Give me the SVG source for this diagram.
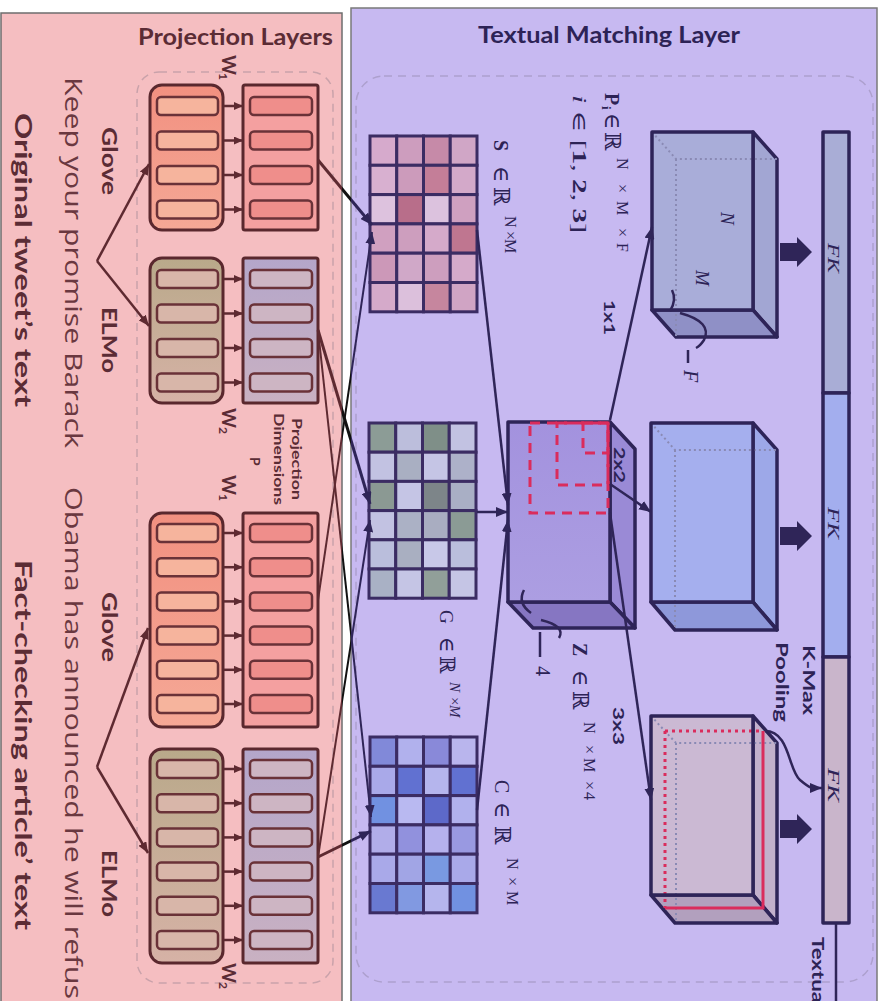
<svg xmlns="http://www.w3.org/2000/svg" width="882" height="1001" viewBox="0 0 882 1001">
<defs>
<style>
.lt{font-family:Lato,"Open Sans","Liberation Sans",sans-serif;fill:#5B2C35}
.st{font-family:"Open Sans","Liberation Sans",sans-serif;fill:#6A3840}
.rt{font-family:Lato,"Open Sans","Liberation Sans",sans-serif;fill:#2D2356}
.mt{font-family:"Liberation Serif","DejaVu Serif",serif;fill:#2D2356}
.b{font-weight:bold}
.it{font-style:italic}
.blk{stroke:#5A282E;stroke-width:3}
.inr{stroke:#6A3238;stroke-width:2.5}
.cell{stroke:#3B2C63;stroke-width:3}
.ml{stroke:#5E2A31;stroke-width:2.5;fill:none}
.nl{stroke:#2F2558;stroke-width:2.5;fill:none}
.xl{stroke:url(#xg);fill:none}
.edge{stroke:#2E2458;stroke-width:3.5;stroke-linejoin:round}
.dot{stroke:#8A8AB4;stroke-width:2;stroke-dasharray:2 3;fill:none}
.red{stroke:#DA2C5C;stroke-width:3;fill:none}
.rdash{stroke:#DA2C5C;stroke-width:3;fill:none;stroke-dasharray:10 7}
.big{font-size:22px}
</style>
<linearGradient id="xg" gradientUnits="userSpaceOnUse" x1="0" y1="0" x2="882" y2="0">
<stop offset="0" stop-color="#5E2A31"/><stop offset="0.3878" stop-color="#5E2A31"/>
<stop offset="0.3878" stop-color="#111111"/><stop offset="0.398" stop-color="#111111"/>
<stop offset="0.398" stop-color="#2F2558"/><stop offset="1" stop-color="#2F2558"/>
</linearGradient>
<linearGradient id="gG" x1="0" y1="0" x2="0" y2="1"><stop offset="0" stop-color="#F29080"/><stop offset="1" stop-color="#F5A896"/></linearGradient>
<linearGradient id="gE" x1="0" y1="0" x2="0" y2="1"><stop offset="0" stop-color="#B9A98A"/><stop offset="1" stop-color="#D6B2A6"/></linearGradient>
<linearGradient id="gPE" x1="0" y1="0" x2="0" y2="1"><stop offset="0" stop-color="#B4A6CA"/><stop offset="1" stop-color="#C9B1C2"/></linearGradient>
<linearGradient id="gZ" x1="0" y1="0" x2="0" y2="1"><stop offset="0" stop-color="#A392DE"/><stop offset="1" stop-color="#AC9EE2"/></linearGradient>
<marker id="am" markerUnits="userSpaceOnUse" markerWidth="11" markerHeight="9" refX="11" refY="4.5" orient="auto"><path d="M0,0 L11,4.5 L0,9 z" fill="#5E2A31"/></marker>
<marker id="as" markerUnits="userSpaceOnUse" markerWidth="9" markerHeight="8" refX="9" refY="4" orient="auto"><path d="M0,0 L9,4 L0,8 z" fill="#5E2A31"/></marker>
<marker id="an" markerUnits="userSpaceOnUse" markerWidth="12" markerHeight="10" refX="12" refY="5" orient="auto"><path d="M0,0 L12,5 L0,10 z" fill="#2F2558"/></marker>
</defs>

<rect width="882" height="1001" fill="#FFFFFF"/>
<g id="panel-left">
<rect x="1" y="13" width="341" height="992" fill="#F5BEC1" stroke="#6E6E6E" stroke-width="1.5"/>
<rect x="137" y="72" width="196" height="911" rx="22" fill="none" stroke="#C9A2AA" stroke-width="1.5" stroke-dasharray="8 6"/>
<text class="lt b" x="138" y="45" font-size="23" textLength="195" lengthAdjust="spacingAndGlyphs">Projection Layers</text>
</g>
<g id="panel-right">
<rect x="351" y="8" width="526" height="997" fill="#C7B9F1" stroke="#7A7A7A" stroke-width="1.5"/>
<rect x="356" y="76" width="517" height="906" rx="28" fill="none" stroke="#ADA0CE" stroke-width="1.5" stroke-dasharray="8 6"/>
<text class="rt b" x="478" y="43" font-size="23" textLength="262" lengthAdjust="spacingAndGlyphs">Textual Matching Layer</text>
</g>

<g id="left-texts">
<text class="lt b" font-size="23" transform="translate(15,0) rotate(90)" x="113" textLength="294" lengthAdjust="spacingAndGlyphs">Original tweet’s text</text>
<text class="lt b" font-size="23" transform="translate(15,0) rotate(90)" x="560" textLength="370" lengthAdjust="spacingAndGlyphs">Fact-checking article’ text</text>
<text class="st" font-size="24" transform="translate(65,0) rotate(90)" x="77" textLength="371" lengthAdjust="spacingAndGlyphs">Keep your promise Barack</text>
<text class="st" font-size="24" transform="translate(65,0) rotate(90)" x="487" textLength="512" lengthAdjust="spacingAndGlyphs">Obama has announced he will refus</text>
<text class="lt b" font-size="20" transform="translate(102,0) rotate(90)" x="127" textLength="68" lengthAdjust="spacingAndGlyphs">Glove</text>
<text class="lt b" font-size="20" transform="translate(102,0) rotate(90)" x="307" textLength="66" lengthAdjust="spacingAndGlyphs">ELMo</text>
<text class="lt b" font-size="20" transform="translate(102,0) rotate(90)" x="592" textLength="70" lengthAdjust="spacingAndGlyphs">Glove</text>
<text class="lt b" font-size="20" transform="translate(102,0) rotate(90)" x="850" textLength="67" lengthAdjust="spacingAndGlyphs">ELMo</text>
<text class="lt b" font-size="19" transform="translate(222,0) rotate(90)"><tspan x="55">W</tspan><tspan x="73" y="3" font-size="12">1</tspan></text>
<text class="lt b" font-size="19" transform="translate(222,0) rotate(90)"><tspan x="408">W</tspan><tspan x="427" y="3" font-size="12">2</tspan></text>
<text class="lt b" font-size="19" transform="translate(222,0) rotate(90)"><tspan x="475">W</tspan><tspan x="494" y="3" font-size="12">1</tspan></text>
<text class="lt b" font-size="19" transform="translate(222,0) rotate(90)"><tspan x="963">W</tspan><tspan x="982" y="3" font-size="12">2</tspan></text>
<text class="lt b" font-size="14" transform="translate(292,0) rotate(90)" x="418" textLength="82" lengthAdjust="spacingAndGlyphs">Projection</text>
<text class="lt b" font-size="14" transform="translate(274,0) rotate(90)" x="413" textLength="92" lengthAdjust="spacingAndGlyphs">Dimensions</text>
<text class="lt b" font-size="14" transform="translate(250,0) rotate(90)" x="457">P</text>
</g>

<g id="glove1" transform="translate(150,85)">
<rect width="73" height="145" rx="12" fill="url(#gG)" class="blk"/>
<g fill="#F6B49D" class="inr"><rect x="7" y="12" width="61" height="18" rx="4"/><rect x="7" y="46.5" width="61" height="18" rx="4"/><rect x="7" y="81" width="61" height="18" rx="4"/><rect x="7" y="115.5" width="61" height="18" rx="4"/></g>
</g>
<g id="proj-glove1" transform="translate(243,85)">
<rect width="75" height="145" rx="2" fill="#F4A0A0" class="blk"/>
<g fill="#EF8E8B" class="inr"><rect x="7" y="12" width="62" height="18" rx="4"/><rect x="7" y="46.5" width="62" height="18" rx="4"/><rect x="7" y="81" width="62" height="18" rx="4"/><rect x="7" y="115.5" width="62" height="18" rx="4"/></g>
</g>
<g id="elmo1" transform="translate(150,258)">
<rect width="73" height="145" rx="12" fill="url(#gE)" class="blk"/>
<g fill="#D8B6A9" class="inr"><rect x="7" y="12" width="61" height="18" rx="4"/><rect x="7" y="46.5" width="61" height="18" rx="4"/><rect x="7" y="81" width="61" height="18" rx="4"/><rect x="7" y="115.5" width="61" height="18" rx="4"/></g>
</g>
<g id="proj-elmo1" transform="translate(243,258)">
<rect width="75" height="145" rx="2" fill="url(#gPE)" class="blk"/>
<g fill="#CDB5C3" class="inr"><rect x="7" y="12" width="62" height="18" rx="4"/><rect x="7" y="46.5" width="62" height="18" rx="4"/><rect x="7" y="81" width="62" height="18" rx="4"/><rect x="7" y="115.5" width="62" height="18" rx="4"/></g>
</g>
<g id="glove2" transform="translate(150,513)">
<rect width="73" height="214" rx="12" fill="url(#gG)" class="blk"/>
<g fill="#F6B49D" class="inr"><rect x="7" y="11" width="61" height="18" rx="4"/><rect x="7" y="45.2" width="61" height="18" rx="4"/><rect x="7" y="79.4" width="61" height="18" rx="4"/><rect x="7" y="113.6" width="61" height="18" rx="4"/><rect x="7" y="147.8" width="61" height="18" rx="4"/><rect x="7" y="182" width="61" height="18" rx="4"/></g>
</g>
<g id="proj-glove2" transform="translate(243,513)">
<rect width="75" height="214" rx="2" fill="#F4A0A0" class="blk"/>
<g fill="#EF8E8B" class="inr"><rect x="7" y="11" width="62" height="18" rx="4"/><rect x="7" y="45.2" width="62" height="18" rx="4"/><rect x="7" y="79.4" width="62" height="18" rx="4"/><rect x="7" y="113.6" width="62" height="18" rx="4"/><rect x="7" y="147.8" width="62" height="18" rx="4"/><rect x="7" y="182" width="62" height="18" rx="4"/></g>
</g>
<g id="elmo2" transform="translate(150,749)">
<rect width="73" height="214" rx="12" fill="url(#gE)" class="blk"/>
<g fill="#D8B6A9" class="inr"><rect x="7" y="11" width="61" height="18" rx="4"/><rect x="7" y="45.2" width="61" height="18" rx="4"/><rect x="7" y="79.4" width="61" height="18" rx="4"/><rect x="7" y="113.6" width="61" height="18" rx="4"/><rect x="7" y="147.8" width="61" height="18" rx="4"/><rect x="7" y="182" width="61" height="18" rx="4"/></g>
</g>
<g id="proj-elmo2" transform="translate(243,749)">
<rect width="75" height="214" rx="2" fill="url(#gPE)" class="blk"/>
<g fill="#CDB5C3" class="inr"><rect x="7" y="11" width="62" height="18" rx="4"/><rect x="7" y="45.2" width="62" height="18" rx="4"/><rect x="7" y="79.4" width="62" height="18" rx="4"/><rect x="7" y="113.6" width="62" height="18" rx="4"/><rect x="7" y="147.8" width="62" height="18" rx="4"/><rect x="7" y="182" width="62" height="18" rx="4"/></g>
</g>

<g id="matrix-S" transform="translate(370,136)">
<g class="cell">
<rect x="0" y="0" width="26.75" height="29.3" fill="#D6AACC"/><rect x="26.75" y="0" width="26.75" height="29.3" fill="#CD9DBE"/><rect x="53.5" y="0" width="26.75" height="29.3" fill="#C68AA8"/><rect x="80.25" y="0" width="26.75" height="29.3" fill="#D0A6C6"/>
<rect x="0" y="29.3" width="26.75" height="29.3" fill="#D8B0D0"/><rect x="26.75" y="29.3" width="26.75" height="29.3" fill="#CC9BBB"/><rect x="53.5" y="29.3" width="26.75" height="29.3" fill="#C47E98"/><rect x="80.25" y="29.3" width="26.75" height="29.3" fill="#D3A9C9"/>
<rect x="0" y="58.6" width="26.75" height="29.3" fill="#DDC2DE"/><rect x="26.75" y="58.6" width="26.75" height="29.3" fill="#B86E8A"/><rect x="53.5" y="58.6" width="26.75" height="29.3" fill="#DCC2DE"/><rect x="80.25" y="58.6" width="26.75" height="29.3" fill="#CFA0C0"/>
<rect x="0" y="87.9" width="26.75" height="29.3" fill="#D0A0C0"/><rect x="26.75" y="87.9" width="26.75" height="29.3" fill="#CD9EBE"/><rect x="53.5" y="87.9" width="26.75" height="29.3" fill="#D5AACA"/><rect x="80.25" y="87.9" width="26.75" height="29.3" fill="#BF7690"/>
<rect x="0" y="117.2" width="26.75" height="29.3" fill="#CC98B8"/><rect x="26.75" y="117.2" width="26.75" height="29.3" fill="#D0A8C8"/><rect x="53.5" y="117.2" width="26.75" height="29.3" fill="#CD9EBE"/><rect x="80.25" y="117.2" width="26.75" height="29.3" fill="#D5AACA"/>
<rect x="0" y="146.5" width="26.75" height="29.3" fill="#D5AACA"/><rect x="26.75" y="146.5" width="26.75" height="29.3" fill="#DCC0DC"/><rect x="53.5" y="146.5" width="26.75" height="29.3" fill="#C6869E"/><rect x="80.25" y="146.5" width="26.75" height="29.3" fill="#D0A4C4"/>
</g>
</g>
<g id="matrix-G" transform="translate(369,423)">
<g class="cell">
<rect x="0" y="0" width="26.75" height="29.2" fill="#8C9C96"/><rect x="26.75" y="0" width="26.75" height="29.2" fill="#BCBEDC"/><rect x="53.5" y="0" width="26.75" height="29.2" fill="#7F8F88"/><rect x="80.25" y="0" width="26.75" height="29.2" fill="#C2C2E2"/>
<rect x="0" y="29.2" width="26.75" height="29.2" fill="#C2C2E2"/><rect x="26.75" y="29.2" width="26.75" height="29.2" fill="#A9AFC2"/><rect x="53.5" y="29.2" width="26.75" height="29.2" fill="#C5C5E5"/><rect x="80.25" y="29.2" width="26.75" height="29.2" fill="#ADB1C9"/>
<rect x="0" y="58.4" width="26.75" height="29.2" fill="#8B9993"/><rect x="26.75" y="58.4" width="26.75" height="29.2" fill="#C5C5E5"/><rect x="53.5" y="58.4" width="26.75" height="29.2" fill="#7D8589"/><rect x="80.25" y="58.4" width="26.75" height="29.2" fill="#A9AFC5"/>
<rect x="0" y="87.6" width="26.75" height="29.2" fill="#C2C2E2"/><rect x="26.75" y="87.6" width="26.75" height="29.2" fill="#ABB1C5"/><rect x="53.5" y="87.6" width="26.75" height="29.2" fill="#A9ADC1"/><rect x="80.25" y="87.6" width="26.75" height="29.2" fill="#8B9B95"/>
<rect x="0" y="116.8" width="26.75" height="29.2" fill="#BABEDC"/><rect x="26.75" y="116.8" width="26.75" height="29.2" fill="#A9AFC1"/><rect x="53.5" y="116.8" width="26.75" height="29.2" fill="#C8C8E8"/><rect x="80.25" y="116.8" width="26.75" height="29.2" fill="#BABEDC"/>
<rect x="0" y="146" width="26.75" height="29.2" fill="#A9B1C5"/><rect x="26.75" y="146" width="26.75" height="29.2" fill="#C5C5E5"/><rect x="53.5" y="146" width="26.75" height="29.2" fill="#919F99"/><rect x="80.25" y="146" width="26.75" height="29.2" fill="#C5C5E5"/>
</g>
</g>
<g id="matrix-C" transform="translate(370,737)">
<g class="cell">
<rect x="0" y="0" width="26.75" height="29.3" fill="#8189D9"/><rect x="26.75" y="0" width="26.75" height="29.3" fill="#B1B1ED"/><rect x="53.5" y="0" width="26.75" height="29.3" fill="#8989D9"/><rect x="80.25" y="0" width="26.75" height="29.3" fill="#B9B5ED"/>
<rect x="0" y="29.3" width="26.75" height="29.3" fill="#A9A9E9"/><rect x="26.75" y="29.3" width="26.75" height="29.3" fill="#6171D1"/><rect x="53.5" y="29.3" width="26.75" height="29.3" fill="#B5B5ED"/><rect x="80.25" y="29.3" width="26.75" height="29.3" fill="#6171D1"/>
<rect x="0" y="58.6" width="26.75" height="29.3" fill="#7191E1"/><rect x="26.75" y="58.6" width="26.75" height="29.3" fill="#B9B9F1"/><rect x="53.5" y="58.6" width="26.75" height="29.3" fill="#5D69C9"/><rect x="80.25" y="58.6" width="26.75" height="29.3" fill="#B1B1ED"/>
<rect x="0" y="87.9" width="26.75" height="29.3" fill="#B1ADE9"/><rect x="26.75" y="87.9" width="26.75" height="29.3" fill="#9191DD"/><rect x="53.5" y="87.9" width="26.75" height="29.3" fill="#B5B1ED"/><rect x="80.25" y="87.9" width="26.75" height="29.3" fill="#9999E1"/>
<rect x="0" y="117.2" width="26.75" height="29.3" fill="#A9A9E9"/><rect x="26.75" y="117.2" width="26.75" height="29.3" fill="#A1A5E5"/><rect x="53.5" y="117.2" width="26.75" height="29.3" fill="#7999E1"/><rect x="80.25" y="117.2" width="26.75" height="29.3" fill="#A9A9E9"/>
<rect x="0" y="146.5" width="26.75" height="29.3" fill="#6979D1"/><rect x="26.75" y="146.5" width="26.75" height="29.3" fill="#8199E1"/><rect x="53.5" y="146.5" width="26.75" height="29.3" fill="#B5B5ED"/><rect x="80.25" y="146.5" width="26.75" height="29.3" fill="#7191E1"/>
</g>
</g>

<g id="cube-Z">
<polygon points="610,422 635,449 635,628 610,602" fill="#9A8AD6" class="edge"/>
<polygon points="508,602 610,602 635,628 533,628" fill="#8676C2" class="edge"/>
<rect x="508" y="422" width="102" height="180" fill="url(#gZ)" class="edge"/>
<rect x="530" y="423" width="78" height="90" class="rdash"/>
<rect x="557" y="423" width="51" height="62" class="rdash"/>
<rect x="583" y="423" width="25" height="30" class="rdash"/>
<path d="M524 590 Q517 603 531 613 M541 620 Q566 626 559 638" class="nl" stroke-width="2"/>
<line x1="540" y1="632" x2="540" y2="657" class="nl" stroke-width="1.5"/>
</g>
<g id="cube-P1">
<polygon points="753,132 777,159 777,337 753,310" fill="#A2A6D3" class="edge"/>
<polygon points="652,310 753,310 777,337 676,337" fill="#8F90C6" class="edge"/>
<rect x="652" y="132" width="101" height="178" fill="#A9ADD9"/>
<path d="M652 132 L676 159 L777 159 M676 159 L676 337" class="dot"/>
<rect x="652" y="132" width="101" height="178" fill="none" class="edge"/>
<path d="M672 290 Q677 300 670 311 M680 313 Q713 322 704 340 Q700 346 696 348" class="nl" stroke-width="2"/>
<line x1="688" y1="350" x2="688" y2="363" class="nl" stroke-width="1.5"/>
</g>
<g id="cube-P2">
<polygon points="753,423 777,450 777,630 753,602" fill="#9DA8E8" class="edge"/>
<polygon points="651,602 753,602 777,630 675,630" fill="#8E98DA" class="edge"/>
<rect x="651" y="423" width="102" height="179" fill="#A5AFEE"/>
<path d="M651 423 L675 450 L777 450 M675 450 L675 630" class="dot"/>
<rect x="651" y="423" width="102" height="179" fill="none" class="edge"/>
</g>
<g id="cube-P3">
<polygon points="753,716 777,743 777,923 753,895" fill="#C2B0CC" class="edge"/>
<polygon points="651,895 753,895 777,923 675,923" fill="#B2A0BE" class="edge"/>
<rect x="651" y="716" width="102" height="179" fill="#CBB9D3"/>
<path d="M651 716 L676 743 L777 743 M676 743 L676 923" class="dot"/>
<path d="M665 731 H763 M665 731 V908" class="red" stroke-dasharray="3 4"/>
<path d="M763 731 V908 H665" class="red"/>
<rect x="651" y="716" width="102" height="179" fill="none" class="edge"/>
</g>
<g id="fk-bar">
<rect x="823" y="132" width="26" height="261" fill="#A9ADD6" class="edge" stroke-width="3"/>
<rect x="823" y="393" width="26" height="264" fill="#A3AEEE" class="edge" stroke-width="3"/>
<rect x="823" y="657" width="26" height="266" fill="#C9B5CB" class="edge" stroke-width="3"/>
<text class="mt it" font-size="17" transform="translate(828,0) rotate(90)" x="243" textLength="30" lengthAdjust="spacingAndGlyphs">FK</text>
<text class="mt it" font-size="17" transform="translate(828,0) rotate(90)" x="507" textLength="32" lengthAdjust="spacingAndGlyphs">FK</text>
<text class="mt it" font-size="17" transform="translate(828,0) rotate(90)" x="768" textLength="34" lengthAdjust="spacingAndGlyphs">FK</text>
</g>
<g id="block-arrows" fill="#2F2558">
<path d="M780 243 H797 V237 L812 252 L797 267 V261 H780 Z"/>
<path d="M780 527 H797 V521 L812 536 L797 551 V545 H780 Z"/>
<path d="M780 820 H797 V814 L812 829 L797 844 V838 H780 Z"/>
</g>

<g id="right-texts">
<text class="mt" font-size="20" transform="translate(494,0) rotate(90)"><tspan x="140" class="b">S</tspan><tspan x="166" class="big">∈</tspan><tspan x="187" class="big">ℝ</tspan><tspan x="216 231 239" y="-11" font-size="16">N×M</tspan></text>
<text class="mt" font-size="20" transform="translate(605,0) rotate(90)"><tspan x="93" class="b">P</tspan><tspan x="106" y="3" font-size="13" class="b">i</tspan><tspan x="113" y="0" class="big">∈</tspan><tspan x="132" class="big">ℝ</tspan><tspan x="158 184 201 228 243" y="-12" font-size="16">N×M×F</tspan></text>
<text class="mt" font-size="19" transform="translate(573,0) rotate(90)" x="95" textLength="138" lengthAdjust="spacingAndGlyphs"><tspan class="it">i</tspan> ∈ [<tspan class="b">1</tspan>, <tspan class="b">2</tspan>, <tspan class="b">3</tspan>]</text>
<text class="mt" font-size="19" fill="#463A72" transform="translate(440,0) rotate(90)"><tspan x="610">G</tspan><tspan x="637" font-size="21">∈</tspan><tspan x="656" font-size="21">ℝ</tspan><tspan x="682 696 705" y="-10" font-size="15" class="it">N×M</tspan></text>
<text class="mt" font-size="20" transform="translate(573,0) rotate(90)"><tspan x="643" class="b">Z</tspan><tspan x="670" class="big">∈</tspan><tspan x="691" class="big">ℝ</tspan><tspan x="722 745 758 781 792" y="-11" font-size="16">N×M×4</tspan></text>
<text class="mt" font-size="20" transform="translate(495,0) rotate(90)"><tspan x="780">C</tspan><tspan x="802" class="big">∈</tspan><tspan x="826" class="big">ℝ</tspan><tspan x="858 877 891" y="-12" font-size="16">N×M</tspan></text>
<text class="mt it" font-size="19" transform="translate(721,0) rotate(90)" x="212">N</text>
<text class="mt it" font-size="19" transform="translate(696,0) rotate(90)" x="270">M</text>
<text class="mt it" font-size="20" transform="translate(684,0) rotate(90)" x="370">F</text>
<text class="mt" font-size="20" transform="translate(536,0) rotate(90)" x="666">4</text>
<text class="rt b" font-size="15" transform="translate(604,0) rotate(90)" x="300" textLength="35" lengthAdjust="spacingAndGlyphs">1x1</text>
<text class="rt b" font-size="15" transform="translate(614,0) rotate(90)" x="447" textLength="36" lengthAdjust="spacingAndGlyphs">2x2</text>
<text class="rt b" font-size="15" transform="translate(613,0) rotate(90)" x="707" textLength="38" lengthAdjust="spacingAndGlyphs">3x3</text>
<text class="rt b" font-size="17" transform="translate(803,0) rotate(90)" x="645" textLength="70" lengthAdjust="spacingAndGlyphs">K-Max</text>
<text class="rt b" font-size="17" transform="translate(776,0) rotate(90)" x="642" textLength="80" lengthAdjust="spacingAndGlyphs">Pooling</text>
<text class="rt b" font-size="17" transform="translate(812,0) rotate(90)" x="937" textLength="66" lengthAdjust="spacingAndGlyphs">Textua</text>
</g>

<g id="connectors">
<line x1="97" y1="261" x2="149" y2="164" class="ml" marker-end="url(#am)"/>
<line x1="97" y1="261" x2="149" y2="326" class="ml" marker-end="url(#am)"/>
<line x1="97" y1="767" x2="148" y2="628" class="ml" marker-end="url(#am)"/>
<line x1="97" y1="767" x2="148" y2="853" class="ml" marker-end="url(#am)"/>
<g class="ml" stroke-width="2.5" marker-end="url(#as)">
<line x1="224" y1="106" x2="243" y2="106"/><line x1="224" y1="140.5" x2="243" y2="140.5"/><line x1="224" y1="175" x2="243" y2="175"/><line x1="224" y1="209.5" x2="243" y2="209.5"/>
<line x1="224" y1="279" x2="243" y2="279"/><line x1="224" y1="313.5" x2="243" y2="313.5"/><line x1="224" y1="348" x2="243" y2="348"/><line x1="224" y1="382.5" x2="243" y2="382.5"/>
<line x1="224" y1="533" x2="243" y2="533"/><line x1="224" y1="567.2" x2="243" y2="567.2"/><line x1="224" y1="601.4" x2="243" y2="601.4"/><line x1="224" y1="635.6" x2="243" y2="635.6"/><line x1="224" y1="669.8" x2="243" y2="669.8"/><line x1="224" y1="704" x2="243" y2="704"/>
<line x1="224" y1="769" x2="243" y2="769"/><line x1="224" y1="803.2" x2="243" y2="803.2"/><line x1="224" y1="837.4" x2="243" y2="837.4"/><line x1="224" y1="871.6" x2="243" y2="871.6"/><line x1="224" y1="905.8" x2="243" y2="905.8"/><line x1="224" y1="940" x2="243" y2="940"/>
</g>
<line x1="318" y1="160" x2="372" y2="225" class="xl" stroke-width="3" marker-end="url(#an)"/>
<line x1="318" y1="600" x2="372" y2="232" class="xl" stroke-width="2" marker-end="url(#an)"/>
<line x1="318" y1="330" x2="370" y2="504" class="xl" stroke-width="3" marker-end="url(#an)"/>
<line x1="318" y1="857" x2="370" y2="520" class="xl" stroke-width="2" marker-end="url(#an)"/>
<line x1="318" y1="330" x2="371" y2="817" class="xl" stroke-width="2" marker-end="url(#an)"/>
<line x1="318" y1="857" x2="371" y2="831" class="xl" stroke-width="3" marker-end="url(#an)"/>
<line x1="477" y1="230" x2="508" y2="505" class="nl" marker-end="url(#an)"/>
<line x1="477" y1="512" x2="508" y2="512" class="nl" stroke-width="3" marker-end="url(#an)"/>
<line x1="477" y1="810" x2="508" y2="520" class="nl" marker-end="url(#an)"/>
<line x1="610" y1="420" x2="652" y2="227" class="nl" marker-end="url(#an)"/>
<line x1="610" y1="484" x2="651" y2="512" class="nl" marker-end="url(#an)"/>
<line x1="610" y1="513" x2="651" y2="800" class="nl" marker-end="url(#an)"/>
<path d="M765 731 C790 731 788 770 800 780 S812 788 822 788" class="nl" marker-end="url(#an)"/>
<line x1="836" y1="923" x2="836" y2="1001" class="nl"/>
</g>
</svg>
